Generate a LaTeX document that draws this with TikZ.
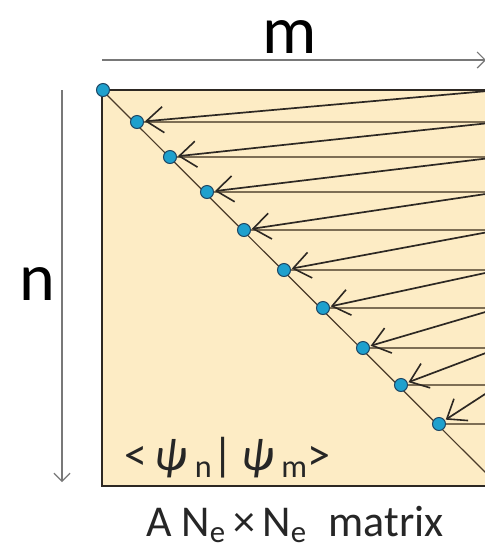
\documentclass[tikz,border=0pt]{standalone}
\usepackage{fontspec}
\setmainfont{Carlito}
\usetikzlibrary{arrows.meta}
\definecolor{beige}{RGB}{253,236,197}
\definecolor{dotfill}{RGB}{30,160,205}
\definecolor{dotedge}{RGB}{30,70,100}
\definecolor{axisgray}{RGB}{120,120,120}
\definecolor{rowline}{RGB}{125,110,85}
\definecolor{darkline}{RGB}{45,40,35}
\tikzset{
  dotnode/.style={circle,fill=dotfill,draw=dotedge,line width=1pt,inner sep=0pt,minimum size=13pt},
  axisarrow/.style={draw=axisgray,line width=1.6pt,-{Straight Barb[length=8pt,width=16pt,line width=1.2pt]}},
  rowarrow/.style={draw=darkline,line width=1.7pt,-{Straight Barb[length=17pt,width=26pt,line width=1.6pt]},shorten >=1pt},
  rowline/.style={draw=rowline,line width=1.8pt},
  diagline/.style={draw=darkline!80!brown,line width=1.2pt},
  bigtext/.style={font=\fontsize{68}{68}\selectfont,inner sep=0pt},
  labeltext/.style={font=\fontsize{46}{46}\selectfont,inner sep=0pt,text=black!85},
  captext/.style={font=\fontsize{44}{44}\selectfont,inner sep=0pt,text=black!85},
}
\begin{document}
\begin{tikzpicture}[x=1pt,y=-1pt]
\clip (0,0) rectangle (485,550);
\fill[white] (0,0) rectangle (485,550);
% matrix
\coordinate (tl) at (102,90);
\coordinate (br) at (499,486);
\fill[beige] (tl) rectangle (br);
% diagonal
\draw[diagline] (tl) -- (br);
% right-edge points
\foreach \i/\y in {0/90,1/122,2/157,3/192,4/230,5/270,6/308,7/348,8/385,9/424}{
  \coordinate (r\i) at (499,\y);
}
\foreach \i/\x/\y in {1/137/122,2/170/157,3/207/192,4/244/230,5/284/270,6/323/308,7/363/348,8/401/385,9/439/424}{
  \node[dotnode] (d\i) at (\x,\y) {};
}
\foreach \i in {1,...,9}{
  \draw[rowline] (d\i.east) -- (r\i);
}
\foreach \i [evaluate=\i as \j using int(\i-1)] in {1,...,9}{
  \draw[rowarrow] (r\j) -- (d\i);
}
\draw[darkline,line width=1.8pt] (br) -| (tl) -- (r0);
\node[dotnode] (d0) at (103,90) {};
% axes
\coordinate (ms) at (102,60);
\coordinate (me) at (486,60);
\draw[axisarrow] (ms) -- (me);
\coordinate (ns) at (62,90);
\coordinate (ne) at (62,482);
\draw[axisarrow] (ns) -- (ne);
\node[bigtext,anchor=base] (m) at (290,53) {m};
\node[bigtext,anchor=base] (n) at (37,300) {n};
\node[labeltext,anchor=base west] (bk) at (124,470) {<\,\textit{ψ}\,\textsubscript{n}|\,\textit{ψ}\,\textsubscript{m}>};
\node[captext,anchor=base] (cap) at (295,536) {A N\textsubscript{e}\,×\,N\textsubscript{e}\; matrix};
\end{tikzpicture}
\end{document}
